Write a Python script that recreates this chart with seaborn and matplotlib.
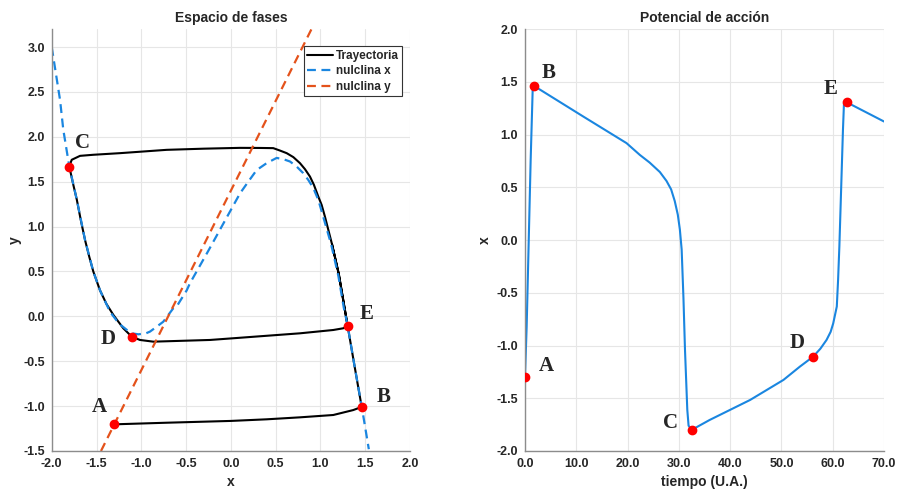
import numpy as np
import pandas as pd
import matplotlib
matplotlib.use('Agg')
import matplotlib.pyplot as plt
import seaborn as sns

# nulclina x
nx_x = [-2.0, -1.907, -1.871, -1.804, -1.72, -1.628, -1.536, -1.461, -1.349, -1.25,
        -1.163, -1.10, -1.033, -0.95, -0.903, -0.828, -0.755, -0.643, -0.605, -0.493,
        -0.456, -0.252, 0.102, 0.194, 0.288, 0.40, 0.511, 0.585, 0.66, 0.734, 0.808,
        0.864, 0.92, 0.976, 1.031, 1.12, 1.20, 1.26, 1.303, 1.38, 1.46, 1.50, 1.54]
nx_y = [3.00, 2.41, 2.08, 1.67, 1.30, 0.85, 0.50, 0.29, 0.05, -0.08,
        -0.15, -0.19, -0.20, -0.19, -0.17, -0.115, -0.06, 0.09, 0.11, 0.29,
        0.37, 0.73, 1.37, 1.50, 1.63, 1.707, 1.765, 1.751, 1.725, 1.669, 1.595,
        1.52, 1.43, 1.298, 1.11, 0.80, 0.45, 0.10, -0.10, -0.55, -1.00, -1.24, -1.48]

# nulclina y (recta)
ny_x = [-1.45, 0.9]
ny_y = [-1.5, 3.2]

# trayectoria en el plano de fases
tr_x = [-1.305, -0.717, 0.0, 0.4, 0.771, 1.143, 1.366, 1.43, 1.46,
        1.38, 1.303, 1.254, 1.205, 1.13, 1.05, 1.013, 0.976, 0.927, 0.883, 0.827,
        0.771, 0.697, 0.623, 0.548, 0.473, 0.325,
        0.1, -0.30, -0.717, -1.238, -1.536, -1.684, -1.777, -1.804,
        -1.76, -1.72, -1.675, -1.628, -1.58, -1.536, -1.461, -1.39, -1.312, -1.201,
        -1.107, -1.015, -0.866, -0.233, 0.027, 0.771, 1.143, 1.254, 1.303,
        1.254, 1.205, 1.13]
tr_y = [-1.203, -1.185, -1.165, -1.147, -1.125, -1.099, -1.044, -1.02, -1.007,
        -0.55, -0.104, 0.183, 0.47, 0.80, 1.111, 1.242, 1.334, 1.465, 1.557, 1.64,
        1.707, 1.774, 1.818, 1.847, 1.874, 1.876,
        1.877, 1.868, 1.855, 1.818, 1.80, 1.788, 1.744, 1.669,
        1.47, 1.30, 1.07, 0.85, 0.66, 0.50, 0.29, 0.14, 0.016, -0.133,
        -0.226, -0.263, -0.282, -0.263, -0.244, -0.189, -0.152, -0.133, -0.104,
        0.183, 0.47, 0.80]

# potencial de accion
t = [0.0, 0.33, 1.11, 1.5, 1.81, 11.37, 19.8, 22.4, 24.3, 26.3, 27.6, 28.5, 29.2,
     29.8, 30.2, 30.55, 30.9, 31.2, 31.65, 31.9, 32.5, 36.0, 43.9, 50.4, 53.6, 56.2,
     57.6, 58.8, 59.6, 60.1, 60.8, 61.05, 61.3, 61.5, 61.8, 62.0, 62.2, 62.7, 70.0]
xt = [-1.30, -0.82, 0.76, 1.42, 1.46, 1.171, 0.919, 0.807, 0.735, 0.645, 0.56, 0.48,
      0.37, 0.24, 0.10, -0.09, -0.55, -1.04, -1.61, -1.76, -1.80, -1.706, -1.516,
      -1.326, -1.2, -1.105, -1.03, -0.947, -0.87, -0.79, -0.63, -0.378, -0.06, 0.255,
      0.73, 1.045, 1.298, 1.307, 1.124]

# puntos marcados
etiquetas = ['A', 'B', 'C', 'D', 'E']
fase_px = [-1.305, 1.46, -1.804, -1.107, 1.303]
fase_py = [-1.203, -1.007, 1.669, -0.226, -0.104]
fase_lx = [-1.472, 1.70, -1.658, -1.375, 1.515]
fase_ly = [-1.007, -0.895, 1.936, -0.255, 0.027]
tiempo_pt = [0.0, 1.81, 32.5, 56.2, 62.7]
tiempo_px = [-1.30, 1.46, -1.80, -1.105, 1.307]
tiempo_lt = [4.23, 4.68, 28.3, 53.0, 59.5]
tiempo_lx = [-1.194, 1.588, -1.73, -0.98, 1.43]

azul = '#1A86E0'
naranja = '#E4521B'
gris = '#262626'

sns.set_theme(style='whitegrid')
plt.rcParams['font.family'] = ['Liberation Sans', 'DejaVu Sans']
plt.rcParams['font.weight'] = 'bold'

fig = plt.figure(figsize=(8.98, 4.9), dpi=100)
ax1 = fig.add_axes([0.0576, 0.0796, 0.399, 0.861])
ax2 = fig.add_axes([0.5846, 0.0796, 0.3998, 0.861])

df_tr = pd.DataFrame({'x': tr_x, 'y': tr_y})
sns.lineplot(data=df_tr, x='x', y='y', sort=False, estimator=None, color='black',
             lw=1.5, ax=ax1, label='Trayectoria')
sns.lineplot(x=nx_x, y=nx_y, color=azul, lw=1.6, ls=(0, (4, 2.5)), ax=ax1,
             label='nulclina x')
sns.lineplot(x=ny_x, y=ny_y, color=naranja, lw=1.6, ls=(0, (4, 2.5)), ax=ax1,
             label='nulclina y')
ax1.plot(fase_px, fase_py, 'o', color='red', ms=6, zorder=5)
for lab, lx, ly in zip(etiquetas, fase_lx, fase_ly):
    ax1.text(lx, ly, lab, family='Liberation Serif', weight='bold', fontsize=15,
             ha='center', va='center')

df_t = pd.DataFrame({'t': t, 'x': xt})
sns.lineplot(data=df_t, x='t', y='x', sort=False, estimator=None, color=azul,
             lw=1.5, ax=ax2)
ax2.plot(tiempo_pt, tiempo_px, 'o', color='red', ms=6, zorder=5)
for lab, lt, lx in zip(etiquetas, tiempo_lt, tiempo_lx):
    ax2.text(lt, lx, lab, family='Liberation Serif', weight='bold', fontsize=15,
             ha='center', va='center')

ax1.set_xlim(-2, 2)
ax1.set_ylim(-1.5, 3.2)
ax1.set_xticks(np.arange(-2, 2.01, 0.5))
ax1.set_yticks(np.arange(-1.5, 3.01, 0.5))
ax1.set_xlabel('x', fontsize=10, weight='bold', color=gris, labelpad=4)
ax1.set_ylabel('y', fontsize=10, weight='bold', color=gris, labelpad=1)
ax1.set_title('Espacio de fases', fontsize=10, weight='bold', pad=5)

ax2.set_xlim(0, 70)
ax2.set_ylim(-2, 2)
ax2.set_xticks(np.arange(0, 70.1, 10))
ax2.set_yticks(np.arange(-2, 2.01, 0.5))
ax2.set_xlabel('tiempo (U.A.)', fontsize=10, weight='bold', color=gris, labelpad=4)
ax2.set_ylabel('x', fontsize=10, weight='bold', color=gris, labelpad=3)
ax2.set_title('Potencial de acción', fontsize=10, weight='bold', pad=5)

for ax in (ax1, ax2):
    ax.xaxis.set_major_formatter(matplotlib.ticker.FormatStrFormatter('%.1f'))
    ax.yaxis.set_major_formatter(matplotlib.ticker.FormatStrFormatter('%.1f'))
    ax.tick_params(labelsize=9, colors=gris, length=0, pad=5)
    for lbl in ax.get_xticklabels() + ax.get_yticklabels():
        lbl.set_fontweight('bold')
    ax.grid(True, color='#E6E6E6', lw=0.8)
    ax.set_facecolor('white')
    for s in ('top', 'right'):
        ax.spines[s].set_visible(False)
    for s in ('left', 'bottom'):
        ax.spines[s].set_color('#8C8C8C')
        ax.spines[s].set_linewidth(1.0)

leg = ax1.legend(loc='upper right', bbox_to_anchor=(0.985, 0.965), fontsize=8.5,
                 handlelength=2.2, handletextpad=0.2, borderpad=0.3,
                 labelspacing=0.3, borderaxespad=0.2, fancybox=False,
                 framealpha=1)
leg.get_frame().set_edgecolor('#333333')
leg.get_frame().set_linewidth(0.8)
for txt in leg.get_texts():
    txt.set_fontweight('bold')

fig.savefig('out.png', dpi=100)
